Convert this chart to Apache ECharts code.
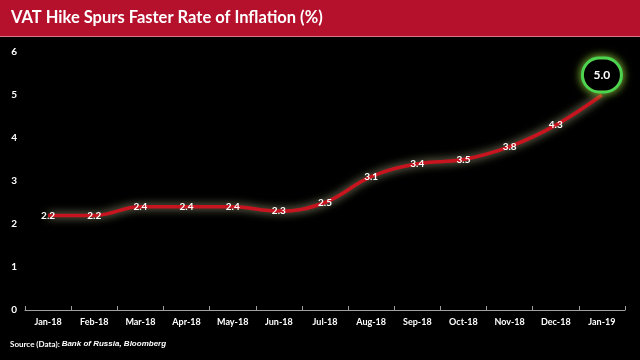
<!DOCTYPE html>
<html>
<head>
<meta charset="utf-8">
<script src="https://cdn.jsdelivr.net/npm/echarts@6/dist/echarts.min.js"></script>
<style>
html,body{margin:0;padding:0;background:#000;}
#chart{width:640px;height:360px;}
</style>
</head>
<body>
<div id="chart"></div>
<script>
const titleText = 'VAT Hike Spurs Faster Rate of Inflation (%)';
const categories = ['Jan-18','Feb-18','Mar-18','Apr-18','May-18','Jun-18','Jul-18','Aug-18','Sep-18','Oct-18','Nov-18','Dec-18','Jan-19'];
const inflation = [2.2, 2.2, 2.4, 2.4, 2.4, 2.3, 2.5, 3.1, 3.4, 3.5, 3.8, 4.3, 5.0];
const yTicks = [0, 1, 2, 3, 4, 5, 6];

const font = 'Lato, "Open Sans", sans-serif';
const chart = echarts.init(document.getElementById('chart'));

const seriesData = inflation.map((v, i) => {
  if (i === inflation.length - 1) {
    return {
      value: v,
      label: {
        show: true,
        position: 'top',
        distance: 4,
        formatter: v.toFixed(1),
        color: '#fff',
        fontSize: 12,
        fontWeight: 'bold',
        fontFamily: font,
        width: 36,
        height: 31,
        lineHeight: 31,
        align: 'center',
        backgroundColor: '#000',
        borderColor: '#2fd65a',
        borderWidth: 3,
        borderRadius: 20,
        shadowColor: 'rgba(150,210,60,0.9)',
        shadowBlur: 10
      }
    };
  }
  return { value: v };
});

chart.setOption({
  backgroundColor: '#000',
  animation: false,
  graphic: [
    { type: 'rect', left: 0, top: 0, shape: { width: 640, height: 36 }, style: { fill: '#B5102C' }, z: 0 },
    { type: 'rect', left: 0, top: 36, shape: { width: 640, height: 1 }, style: { fill: '#d97a88' }, z: 0 },
    { type: 'text', left: 11, top: 9, style: { text: titleText, fill: '#fff', font: 'bold 16.5px ' + font }, z: 1 },
    { type: 'text', left: 10, top: 340, style: {
        rich: {
          a: { fill: '#fff', fontSize: 8, fontWeight: 'bold', fontFamily: font },
          b: { fill: '#fff', fontSize: 8, fontWeight: 'bold', fontStyle: 'italic', fontFamily: '"Liberation Sans", Arial, sans-serif' }
        },
        text: '{a|Source (Data): }{b|Bank of Russia, Bloomberg}'
      }, z: 1 }
  ],
  grid: { left: 25, right: 15, top: 52, bottom: 50, containLabel: false },
  xAxis: {
    type: 'category',
    data: categories,
    boundaryGap: true,
    axisLine: { lineStyle: { color: '#a0a0a0', width: 1 } },
    axisTick: { show: true, inside: true, length: 4, lineStyle: { color: '#a0a0a0' } },
    axisLabel: { color: '#fff', fontSize: 9, fontWeight: 'bold', fontFamily: font, margin: 8, interval: 0 }
  },
  yAxis: {
    type: 'value',
    min: 0, max: 6, interval: 1,
    axisLine: { show: false },
    axisTick: { show: false },
    splitLine: { show: false },
    axisLabel: { color: '#fff', fontSize: 10, fontWeight: 'bold', fontFamily: font, margin: 8, formatter: v => yTicks.includes(v) ? String(v) : '' }
  },
  series: [{
    type: 'line',
    data: seriesData,
    smooth: 0.4,
    symbol: 'circle',
    symbolSize: 1,
    showSymbol: true,
    itemStyle: { color: 'rgba(0,0,0,0)' },
    lineStyle: { color: '#c8141e', width: 3.5, shadowColor: 'rgba(210,210,160,0.85)', shadowBlur: 8 },
    label: {
      show: true,
      position: 'inside',
      color: '#fff',
      fontSize: 10,
      fontWeight: 'bold',
      fontFamily: font,
      formatter: p => p.value.toFixed(1)
    },
    labelLayout: { hideOverlap: false },
    z: 3
  }]
});
</script>
</body>
</html>
